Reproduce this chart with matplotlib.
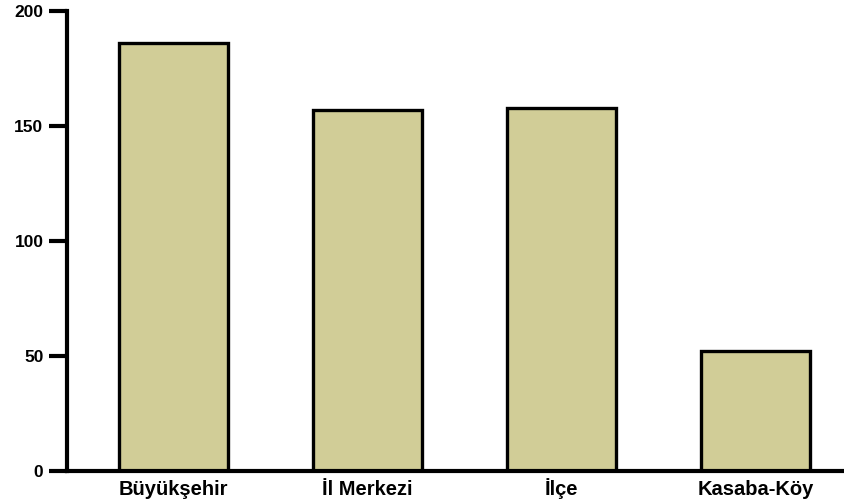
import matplotlib
matplotlib.use("Agg")
import matplotlib.pyplot as plt

categories = ["Büyükşehir", "İl Merkezi", "İlçe", "Kasaba-Köy"]
values = [186, 157, 158, 52]
yticks = [0, 50, 100, 150, 200]

plt.rcParams['font.family'] = ['Liberation Sans', 'DejaVu Sans']
plt.rcParams['font.weight'] = 'bold'

fig = plt.figure(figsize=(8.45, 5.01), dpi=100)
ax = fig.add_axes([67 / 845, 30 / 501, 1 - 67 / 845, 460 / 501])

ax.bar(range(len(categories)), values, width=0.56, color='#D1CD97',
       edgecolor='black', linewidth=2.4, zorder=2)

ax.set_xlim(-0.55, 3.46)
ax.set_ylim(0, 200)
ax.set_yticks(yticks)
ax.set_xticks(range(len(categories)))
ax.set_xticklabels(categories, fontsize=14.5, fontweight='bold', va='baseline')
ax.tick_params(axis='y', length=13, width=3, pad=4, labelsize=12.5)
ax.tick_params(axis='x', length=0, pad=17)
for lab in ax.get_yticklabels():
    lab.set_fontweight('bold')

for side in ['top', 'right']:
    ax.spines[side].set_visible(False)
for side in ['left', 'bottom']:
    ax.spines[side].set_linewidth(3)

fig.savefig("out.png", dpi=100)
